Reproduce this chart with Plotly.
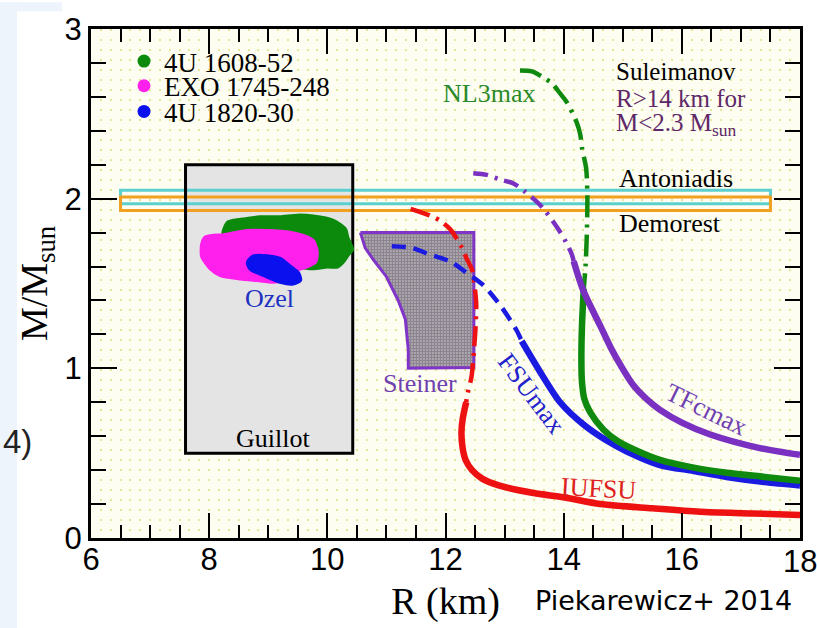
import plotly.graph_objects as go

# ---------------- data ----------------
# Pulsar mass bands (M/Msun) spanning a common radius interval (km)
band_r = [6.5, 17.5]
antoniadis_m = [1.97, 2.05]
demorest_m = [1.93, 2.01]

# Guillot constraint box
guillot_r = [7.6, 10.43]
guillot_m = [0.5, 2.2]

# Steiner region
steiner_r = [10.56, 12.48, 12.48, 11.37, 11.37, 11.32, 11.20, 11.00, 10.78, 10.64, 10.56]
steiner_m = [1.80, 1.80, 1.005, 1.0, 1.11, 1.29, 1.40, 1.54, 1.64, 1.71, 1.80]

# Ozel sources: outlines of the M-R clouds
src_names = ["4U 1608-52", "EXO 1745-248", "4U 1820-30"]
src_colors = ["#0b8a0b", "#ff20ee", "#0a10ee"]
u1608_r = [8.24, 8.32, 8.64, 8.86, 9.20, 9.49, 9.76, 10.10, 10.30, 10.34, 10.42, 10.35,
           10.27, 10.17, 10.00, 9.76, 9.54, 9.20, 8.53]
u1608_m = [1.79, 1.86, 1.88, 1.89, 1.89, 1.90, 1.895, 1.87, 1.82, 1.77, 1.70, 1.67,
           1.63, 1.60, 1.60, 1.59, 1.60, 1.67, 1.76]
exo1745_r = [7.93, 8.05, 8.24, 8.64, 8.98, 9.37, 9.59, 9.76, 9.82, 9.80, 9.66, 9.49,
             9.37, 9.09, 8.81, 8.53, 8.19, 8.02, 7.88, 7.88]
exo1745_m = [1.77, 1.78, 1.785, 1.81, 1.81, 1.80, 1.78, 1.75, 1.69, 1.63, 1.60, 1.58,
             1.53, 1.51, 1.52, 1.53, 1.55, 1.59, 1.66, 1.73]
u1820_r = [8.66, 8.75, 8.98, 9.20, 9.37, 9.51, 9.54, 9.42, 9.20, 8.92, 8.72, 8.66]
u1820_m = [1.63, 1.66, 1.66, 1.645, 1.60, 1.56, 1.52, 1.50, 1.51, 1.55, 1.58, 1.61]

# Mass-radius relations: unstable/high-density part (broken) and stable part (solid)
iufsu_hi_r = [11.41, 11.74, 11.91, 12.08, 12.28, 12.36, 12.45, 12.50, 12.52, 12.51, 12.48, 12.44, 12.38, 12.35]
iufsu_hi_m = [1.94, 1.90, 1.87, 1.82, 1.71, 1.645, 1.58, 1.46, 1.38, 1.25, 1.10, 0.95, 0.86, 0.80]
iufsu_lo_r = [12.35, 12.29, 12.27, 12.29, 12.34, 12.45, 12.62, 12.90, 13.49, 14.00, 14.62, 15.50, 16.31, 17.20, 18.0]
iufsu_lo_m = [0.80, 0.70, 0.62, 0.53, 0.46, 0.40, 0.35, 0.31, 0.265, 0.24, 0.20, 0.175, 0.155, 0.145, 0.135]

fsu_hi_r = [11.09, 11.43, 11.74, 12.08, 12.33, 12.64, 12.95, 13.21, 13.29]
fsu_hi_m = [1.72, 1.71, 1.67, 1.63, 1.57, 1.49, 1.36, 1.22, 1.16]
fsu_lo_r = [13.29, 13.60, 13.94, 14.33, 14.70, 15.07, 15.63, 16.20, 16.76, 17.40, 18.0]
fsu_lo_m = [1.16, 0.98, 0.80, 0.67, 0.58, 0.51, 0.43, 0.395, 0.36, 0.33, 0.31]

nl3_hi_r = [13.26, 13.46, 13.63, 13.80, 13.94, 14.05, 14.22, 14.28, 14.31, 14.38, 14.40, 14.40, 14.39, 14.37, 14.34]
nl3_hi_m = [2.755, 2.75, 2.72, 2.68, 2.62, 2.57, 2.45, 2.38, 2.30, 2.18, 2.04, 1.93, 1.77, 1.60, 1.47]
nl3_lo_r = [14.34, 14.31, 14.30, 14.31, 14.35, 14.45, 14.67, 14.90, 15.20, 15.63, 16.20, 16.76, 17.40, 18.0]
nl3_lo_m = [1.47, 1.25, 1.05, 0.92, 0.82, 0.74, 0.64, 0.575, 0.52, 0.46, 0.415, 0.385, 0.36, 0.337]

tfc_hi_r = [12.47, 12.70, 12.95, 13.15, 13.35, 13.52, 13.66, 13.91, 14.03, 14.14, 14.17]
tfc_hi_m = [2.15, 2.14, 2.11, 2.09, 2.04, 1.99, 1.94, 1.82, 1.75, 1.67, 1.63]
tfc_lo_r = [14.17, 14.33, 14.62, 14.80, 14.96, 15.18, 15.40, 15.63, 16.00, 16.48, 17.32, 18.0]
tfc_lo_m = [1.63, 1.46, 1.25, 1.12, 1.02, 0.90, 0.82, 0.755, 0.68, 0.61, 0.53, 0.49]

# axis ticks
x_ticks = [6, 8, 10, 12, 14, 16, 18]
y_ticks = [0, 1, 2, 3]

# ---------------- styling ----------------
SERIF = "Liberation Serif"
SANS = "Liberation Sans"
RED, BLUE, GREEN, PURPLE = "#ee1111", "#1a1ae0", "#0f8a0f", "#7a30c0"
CYAN, ORANGE = "#5ccfcf", "#f2a020"

W, H = 817, 628
ML, MR, MT, MB = 91, 17, 22, 90
PW, PH = W - ML - MR, H - MT - MB

fig = go.Figure()

# Steiner region
fig.add_trace(go.Scatter(
    x=steiner_r, y=steiner_m, mode="lines", fill="toself",
    line=dict(color="#8035c8", width=3),
    fillcolor="rgba(0,0,0,0)",
    fillpattern=dict(shape=".", fgcolor="#2a1f30", bgcolor="#eeeaee", size=3, solidity=0.8),
    showlegend=False, hoverinfo="skip"))

# Ozel clouds
for r, m, c in [(u1608_r, u1608_m, src_colors[0]),
                (exo1745_r, exo1745_m, src_colors[1]),
                (u1820_r, u1820_m, src_colors[2])]:
    fig.add_trace(go.Scatter(
        x=r + r[:1], y=m + m[:1], mode="lines", fill="toself",
        line=dict(color=c, width=4, shape="spline", smoothing=0.6),
        fillcolor=c, showlegend=False, hoverinfo="skip"))

# legend entries for the sources, one legend each
for i, (name, c) in enumerate(zip(src_names, src_colors)):
    fig.add_trace(go.Scatter(
        x=[None], y=[None], mode="markers", name=name,
        marker=dict(color=c, size=13),
        legend="legend" if i == 0 else f"legend{i + 1}",
        xaxis="x2"))

# EOS curves
curves = [
    (iufsu_hi_r, iufsu_hi_m, iufsu_lo_r, iufsu_lo_m, RED, "20px,7px,3px,7px"),
    (fsu_hi_r, fsu_hi_m, fsu_lo_r, fsu_lo_m, BLUE, "14px,8px"),
    (nl3_hi_r, nl3_hi_m, nl3_lo_r, nl3_lo_m, GREEN, "22px,7px,3px,7px"),
    (tfc_hi_r, tfc_hi_m, tfc_lo_r, tfc_lo_m, PURPLE, "15px,7px,3px,7px"),
]
for hr, hm, lr, lm, c, dash in curves:
    fig.add_trace(go.Scatter(x=hr, y=hm, mode="lines",
                             line=dict(color=c, width=4.5, dash=dash, shape="spline", smoothing=0.8),
                             showlegend=False, hoverinfo="skip"))
    fig.add_trace(go.Scatter(x=lr, y=lm, mode="lines",
                             line=dict(color=c, width=6.5, shape="spline", smoothing=0.8),
                             showlegend=False, hoverinfo="skip"))

# empty trace that carries the mirrored top/right tick axes
fig.add_trace(go.Scatter(x=[None], y=[None], xaxis="x3", yaxis="y2",
                         showlegend=False, hoverinfo="skip"))

# ---------------- shapes ----------------
shapes = [
    # slide background strips around the figure
    dict(type="rect", xref="paper", yref="paper",
         x0=-ML / PW - 0.01, x1=(17 - ML) / PW, y0=-MB / PH - 0.01, y1=1 + MT / PH + 0.01,
         fillcolor="#eef4fc", line_width=0, layer="below"),
    dict(type="rect", xref="paper", yref="paper",
         x0=-ML / PW - 0.01, x1=(62 - ML) / PW, y0=1 + (MT - 4) / PH, y1=1 + MT / PH + 0.01,
         fillcolor="#eef4fc", line_width=0, layer="below"),
    # Guillot box fill
    dict(type="rect", x0=guillot_r[0], x1=guillot_r[1], y0=guillot_m[0], y1=guillot_m[1],
         fillcolor="#e4e4e4", line_width=0, layer="between"),
    # Antoniadis and Demorest bands
    dict(type="rect", x0=band_r[0], x1=band_r[1], y0=antoniadis_m[0], y1=antoniadis_m[1],
         line=dict(color=CYAN, width=3), layer="between"),
    dict(type="rect", x0=band_r[0], x1=band_r[1], y0=demorest_m[0], y1=demorest_m[1],
         line=dict(color=ORANGE, width=3), layer="between"),
    # Guillot box border
    dict(type="rect", x0=guillot_r[0], x1=guillot_r[1], y0=guillot_m[0], y1=guillot_m[1],
         line=dict(color="black", width=3), layer="between"),
]

# ---------------- labels ----------------
def label(x, y, text, color, size=26, angle=0, xanchor="center", font=SERIF, **kw):
    return dict(x=x, y=y, text=text, showarrow=False, textangle=angle,
                xanchor=xanchor, yanchor="middle",
                font=dict(family=font, size=size, color=color), **kw)

tick_font = dict(family=SANS, size=31, color="black")

annotations = [
    label(12.74, 2.62, "NL3max", "#2a8a2a"),
    label(14.85, 2.75, "Suleimanov", "black", size=25, xanchor="left"),
    label(14.85, 2.59, "R&gt;14 km for", "#602868", size=25, xanchor="left"),
    label(14.85, 2.435, "M&lt;2.3 M<sub>sun</sub>", "#602868", size=25, xanchor="left"),
    label(14.90, 2.12, "Antoniadis", "black", xanchor="left"),
    label(14.90, 1.855, "Demorest", "black", xanchor="left"),
    label(9.02, 1.41, "Ozel", "#2030c0"),
    label(9.08, 0.584, "Guillot", "black"),
    label(11.57, 0.91, "Steiner", "#7040b0"),
    label(13.45, 0.85, "FSUmax", "#2222cc", angle=53),
    label(16.41, 0.755, "TFcmax", "#7040b0", angle=26),
    label(14.59, 0.29, "IUFSU", "#dd2020", angle=3),
    # last x tick label, running off the right edge of the page
    dict(x=x_ticks[-1], y=0, yref="y", text=str(x_ticks[-1]), showarrow=False,
         xanchor="center", yanchor="top", yshift=-4, font=tick_font),
    # footer credit and slide fragment
    dict(xref="paper", yref="paper", x=(663 - ML) / PW, y=-(601 - MT - PH) / PH,
         text="Piekarewicz+ 2014", showarrow=False, xanchor="center", yanchor="middle",
         font=dict(family="DejaVu Sans", size=27, color="black")),
    dict(xref="paper", yref="paper", x=(34 - ML) / PW, y=(MT + PH - 440) / PH,
         text="4)", showarrow=False, xanchor="right", yanchor="middle",
         font=dict(family=SANS, size=33, color="#222222")),
]

legend_base = dict(x=(124 - ML) / PW, xanchor="left", yanchor="middle",
                   bgcolor="rgba(0,0,0,0)", borderwidth=0,
                   font=dict(family=SERIF, size=27, color="black"))

axis_common = dict(
    ticks="inside", tickwidth=2, tickcolor="black",
    showline=True, linewidth=3, linecolor="black", mirror=True,
    showgrid=False, zeroline=False, tickfont=tick_font,
)
x_minor = dict(dtick=0.5, tick0=6, ticklen=13, tickwidth=2, ticks="inside", tickcolor="black")
y_minor = dict(dtick=0.2, tick0=0, ticklen=15, tickwidth=2, ticks="inside", tickcolor="black")

fig.update_layout(
    width=W, height=H,
    margin=dict(l=ML, r=MR, t=MT, b=MB),
    paper_bgcolor="white",
    plot_bgcolor="#fdfdf1",
    shapes=shapes,
    annotations=annotations,
    legend=dict(legend_base, y=(MT + PH - 55) / PH),
    legend2=dict(legend_base, y=(MT + PH - 80) / PH),
    legend3=dict(legend_base, y=(MT + PH - 106) / PH),
    xaxis=dict(axis_common, range=[6, 18], tickvals=x_ticks, ticklen=25, minor=x_minor,
               ticklabelstandoff=-8,
               title=dict(text="R (km)", font=dict(family=SERIF, size=38, color="black"), standoff=12)),
    yaxis=dict(axis_common, range=[0, 3], tickvals=y_ticks, ticklen=26, minor=y_minor,
               title=dict(text="M/M<sub>sun</sub>", font=dict(family=SERIF, size=38, color="black"), standoff=6)),
    # dotted texture of the plotting area
    xaxis2=dict(overlaying="x", range=[6, 18], dtick=1 / 6, tick0=6,
                showgrid=True, gridcolor="#e6e69a", gridwidth=2, griddash="2px,8px",
                showticklabels=False, ticks="", showline=False, zeroline=False),
    # mirrored ticks on the top and right edges
    xaxis3=dict(overlaying="x", side="top", anchor="y2", range=[6, 18], tickvals=x_ticks,
                ticks="inside", ticklen=25, tickwidth=2, tickcolor="black", minor=x_minor,
                showticklabels=False, showline=False, showgrid=False, zeroline=False),
    yaxis2=dict(overlaying="y", side="right", anchor="x3", range=[0, 3], tickvals=y_ticks,
                ticks="inside", ticklen=26, tickwidth=2, tickcolor="black", minor=y_minor,
                showticklabels=False, showline=False, showgrid=False, zeroline=False),
)

fig.write_html("out.html")
